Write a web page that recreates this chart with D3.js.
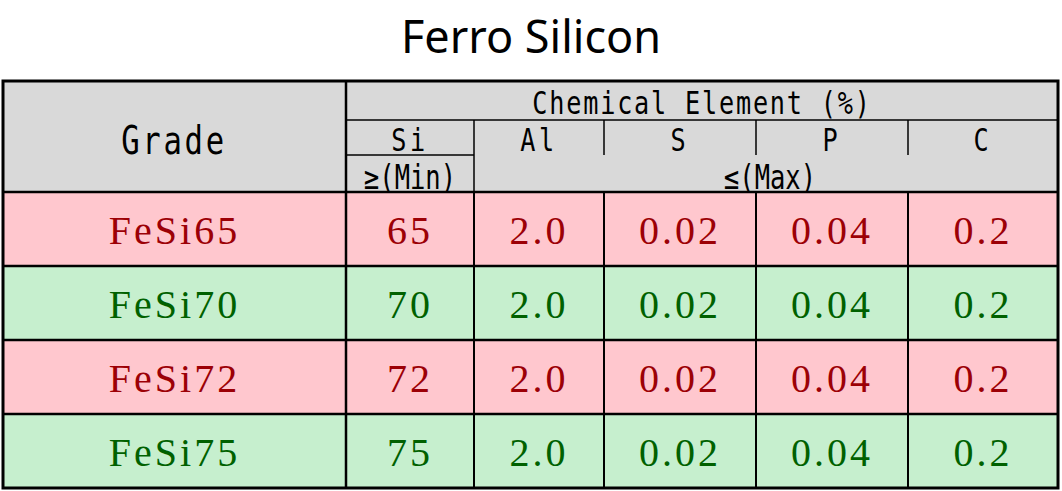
<!DOCTYPE html><html><head><meta charset="utf-8">
<script src="https://cdn.jsdelivr.net/npm/d3@7"></script>
<style>body{margin:0;background:#fff}</style></head><body><svg id="c" width="1062" height="491"></svg>
<script>
const title = "Ferro Silicon";
const elements = ["Si","Al","S","P","C"];
const grades = ["FeSi65","FeSi70","FeSi72","FeSi75"];
const siMin = ["65","70","72","75"];
const alMax = ["2.0","2.0","2.0","2.0"];
const sMax = ["0.02","0.02","0.02","0.02"];
const pMax = ["0.04","0.04","0.04","0.04"];
const cMax = ["0.2","0.2","0.2","0.2"];
const colEdges = [3,346,474,604,756,908,1058];
const rowEdges = [192,266,340,414,488];
const svg = d3.select("#c");
const pink="#ffc7ce", green="#c6efce", red="#9c0006", dgreen="#006100";
const hf = "'DejaVu Sans Mono','Liberation Mono',monospace";
const df = "'Liberation Serif','DejaVu Serif',serif";
svg.append("text").attr("x",531).attr("y",53).attr("text-anchor","middle")
  .style("font-family","'Noto Sans','DejaVu Sans',sans-serif").style("font-size","45px").text(title);
svg.append("rect").attr("x",3).attr("y",81).attr("width",1055).attr("height",111).attr("fill","#d9d9d9");
const cols = grades.map((g,i)=>[g,siMin[i],alMax[i],sMax[i],pMax[i],cMax[i]]);
cols.forEach((row,i)=>{
  const y0=rowEdges[i], y1=rowEdges[i+1];
  svg.append("rect").attr("x",3).attr("y",y0).attr("width",1055).attr("height",y1-y0).attr("fill",i%2?green:pink);
  row.forEach((v,j)=>{
    svg.append("text").attr("x",(colEdges[j]+colEdges[j+1])/2).attr("y",(y0+y1)/2+15)
      .attr("text-anchor","middle").attr("fill",i%2?dgreen:red)
      .style("font-family",df).style("font-size","40px").style("letter-spacing","3px").text(v);
  });
});
const line=(x1,y1,x2,y2,w)=>svg.append("line").attr("x1",x1).attr("y1",y1).attr("x2",x2).attr("y2",y2).attr("stroke","#000").attr("stroke-width",w);
line(346,120,1058,120,1.5); line(346,155,474,155,1.5);
for(let j=2;j<6;j++) line(colEdges[j],120,colEdges[j],155,1.5);
line(474,155,474,192,1.5);
rowEdges.slice(0,-1).forEach(y=>line(3,y,1058,y,2.5));
line(346,81,346,488,2.5);
for(let j=2;j<6;j++) line(colEdges[j],192,colEdges[j],488,2);
svg.append("rect").attr("x",3).attr("y",81).attr("width",1055).attr("height",407).attr("fill","none").attr("stroke","#000").attr("stroke-width",3);
const ht=(x,y,t,s,ls,sx)=>svg.append("text").attr("transform",`translate(${x},${y}) scale(${sx||0.9},1.15)`).attr("text-anchor","middle")
  .style("font-family",hf).style("font-size",s+"px").style("letter-spacing",ls+"px").text(t);
ht(174,154,"Grade",34,3);
ht(702,114,"Chemical Element (%)",28,2);
elements.forEach((e,j)=>ht((colEdges[j+1]+colEdges[j+2])/2,151,e,28,4));
ht(410,189,"≥(Min)",30,0,0.85);
ht(770,189,"≤(Max)",30,0,0.85);
</script></body></html>
